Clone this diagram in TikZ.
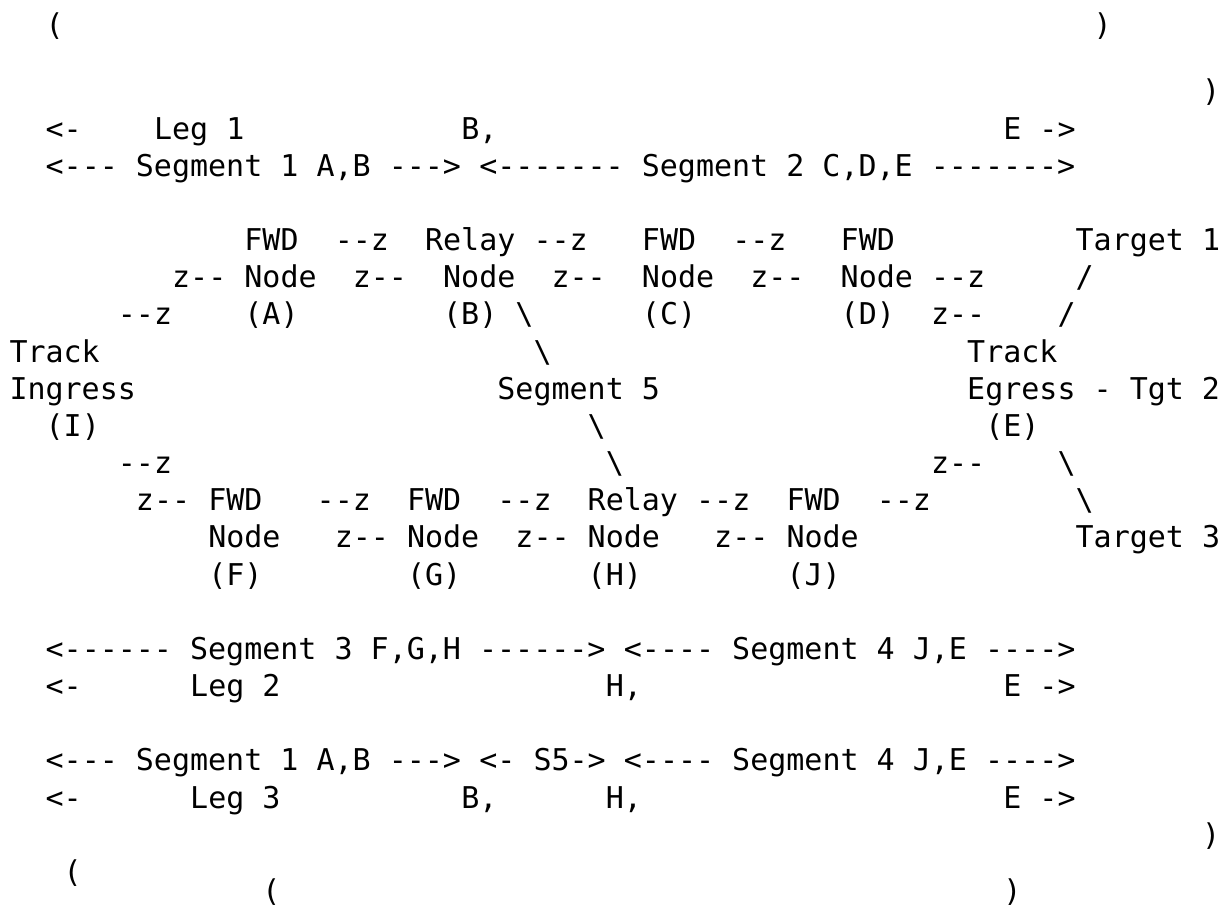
\documentclass[tikz,border=0pt]{standalone}
\usepackage{fontspec}
\setmonofont{DejaVu Sans Mono}
\newcommand{\asc}[4]{\node[txt] (#1) at ({9.5+18.07*(#2)},{64.7+37.17*(#3)}) {#4};}
\newcommand{\ascy}[4]{\node[txt] (#1) at ({9.5+18.07*(#2)},{#3}) {#4};}
\newcommand{\bs}{\textbackslash}
\begin{document}
\begin{tikzpicture}[x=1pt,y=-1pt,
  txt/.style={anchor=base west,inner sep=0pt,outer sep=0pt,text=black,
    font={\fontsize{30}{37.5}\selectfont\ttfamily}}]
\fill[white] (0,0) rectangle (1227,907);
\useasboundingbox (0,0) rectangle (1227,907);
% row 0-3
\ascy{a0}{2}{36}{(}
\ascy{b0}{60}{36}{)}
\asc{a1}{66}{1}{)}
\asc{a2}{2}{2}{<-}
\asc{b2}{8}{2}{Leg 1}
\asc{c2}{25}{2}{B,}
\asc{d2}{55}{2}{E ->}
\asc{a3}{2}{3}{<--- Segment 1 A,B --->}
\asc{b3}{26}{3}{<------- Segment 2 C,D,E ------->}
% row 5
\asc{a5}{13}{5}{FWD}
\asc{b5}{18}{5}{--z}
\asc{c5}{23}{5}{Relay}
\asc{d5}{29}{5}{--z}
\asc{e5}{35}{5}{FWD}
\asc{f5}{40}{5}{--z}
\asc{g5}{46}{5}{FWD}
\asc{h5}{59}{5}{Target 1}
% row 6
\asc{a6}{9}{6}{z--}
\asc{b6}{13}{6}{Node}
\asc{c6}{19}{6}{z--}
\asc{d6}{24}{6}{Node}
\asc{e6}{30}{6}{z--}
\asc{f6}{35}{6}{Node}
\asc{g6}{41}{6}{z--}
\asc{h6}{46}{6}{Node --z}
\asc{i6}{59}{6}{/}
% row 7
\asc{a7}{6}{7}{--z}
\asc{b7}{13}{7}{(A)}
\asc{c7}{24}{7}{(B)}
\asc{d7}{28}{7}{\bs}
\asc{e7}{35}{7}{(C)}
\asc{f7}{46}{7}{(D)}
\asc{g7}{51}{7}{z--}
\asc{h7}{58}{7}{/}
% row 8-10
\asc{a8}{0}{8}{Track}
\asc{b8}{29}{8}{\bs}
\asc{c8}{53}{8}{Track}
\asc{a9}{0}{9}{Ingress}
\asc{b9}{27}{9}{Segment 5}
\asc{c9}{53}{9}{Egress - Tgt 2}
\asc{a10}{2}{10}{(I)}
\asc{b10}{32}{10}{\bs}
\asc{c10}{54}{10}{(E)}
% row 11
\asc{a11}{6}{11}{--z}
\asc{b11}{33}{11}{\bs}
\asc{c11}{51}{11}{z--}
\asc{d11}{58}{11}{\bs}
% row 12
\asc{a12}{7}{12}{z--}
\asc{b12}{11}{12}{FWD}
\asc{c12}{17}{12}{--z}
\asc{d12}{22}{12}{FWD}
\asc{e12}{27}{12}{--z}
\asc{f12}{32}{12}{Relay}
\asc{g12}{38}{12}{--z}
\asc{h12}{43}{12}{FWD}
\asc{i12}{48}{12}{--z}
\asc{j12}{59}{12}{\bs}
% row 13
\asc{a13}{11}{13}{Node}
\asc{b13}{18}{13}{z--}
\asc{c13}{22}{13}{Node}
\asc{d13}{28}{13}{z--}
\asc{e13}{32}{13}{Node}
\asc{f13}{39}{13}{z--}
\asc{g13}{43}{13}{Node}
\asc{h13}{59}{13}{Target 3}
% row 14
\asc{a14}{11}{14}{(F)}
\asc{b14}{22}{14}{(G)}
\asc{c14}{32}{14}{(H)}
\asc{d14}{43}{14}{(J)}
% row 16-17
\asc{a16}{2}{16}{<------ Segment 3 F,G,H ------>}
\asc{b16}{34}{16}{<---- Segment 4 J,E ---->}
\asc{a17}{2}{17}{<-}
\asc{b17}{10}{17}{Leg 2}
\asc{c17}{33}{17}{H,}
\asc{d17}{55}{17}{E ->}
% row 19-20
\asc{a19}{2}{19}{<--- Segment 1 A,B --->}
\asc{b19}{26}{19}{<- S5->}
\asc{c19}{34}{19}{<---- Segment 4 J,E ---->}
\asc{a20}{2}{20}{<-}
\asc{b20}{10}{20}{Leg 3}
\asc{c20}{25}{20}{B,}
\asc{d20}{33}{20}{H,}
\asc{e20}{55}{20}{E ->}
% row 21-23
\asc{a21}{66}{21}{)}
\asc{a22}{3}{22}{(}
\ascy{a23}{14}{901.5}{(}
\ascy{b23}{55}{901.5}{)}
\end{tikzpicture}
\end{document}
